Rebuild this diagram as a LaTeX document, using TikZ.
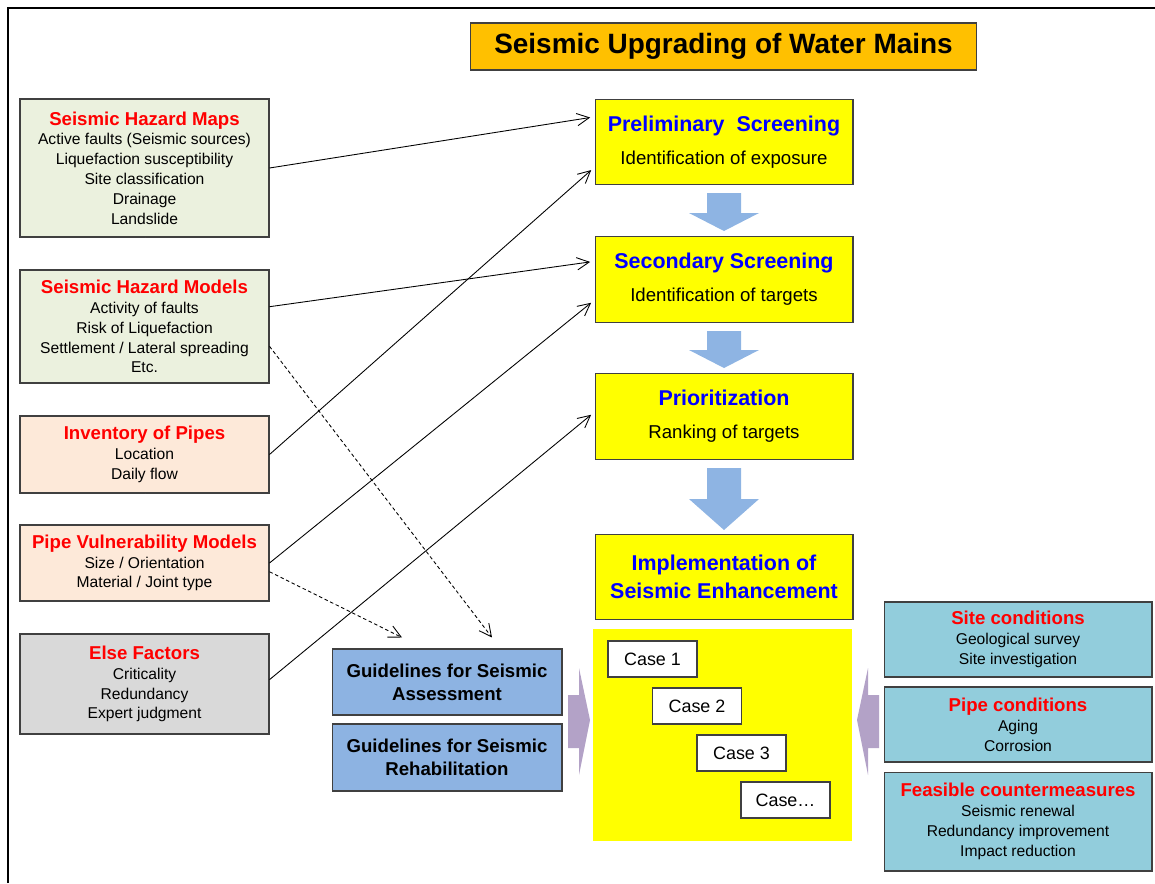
\documentclass[tikz,border=0pt]{standalone}
\usepackage{fontspec}
\setmainfont{Liberation Sans}
\usetikzlibrary{arrows.meta,calc}
\definecolor{titleorange}{HTML}{FFC000}
\definecolor{hazgreen}{HTML}{EBF1DE}
\definecolor{pipepeach}{HTML}{FDE9D9}
\definecolor{factorgrey}{HTML}{D9D9D9}
\definecolor{stepyellow}{HTML}{FFFF00}
\definecolor{stepblue}{HTML}{0000FF}
\definecolor{guideblue}{HTML}{8DB3E2}
\definecolor{flowblue}{HTML}{8EB4E3}
\definecolor{feedpurple}{HTML}{B3A2C7}
\definecolor{condblue}{HTML}{92CDDC}
\definecolor{boxline}{HTML}{404040}
\newcommand{\boxhead}[1]{{\fontsize{10.6}{11.3}\selectfont\bfseries\color{red}#1}}
\newcommand{\stephead}[1]{{\fontsize{12.2}{14}\selectfont\bfseries\color{stepblue}#1}}
\begin{document}
\begin{tikzpicture}[x=0.02cm,y=-0.02cm,
    box/.style={draw=boxline,line width=0.6pt,align=center,inner sep=0pt,
        minimum width=4.98cm,font=\fontsize{8.9}{11.3}\selectfont},
    stepbox/.style={box,fill=stepyellow,minimum width=5.16cm,minimum height=1.71cm,
        font=\fontsize{10.6}{12}\selectfont},
    casebox/.style={box,fill=white,minimum width=1.78cm,minimum height=0.72cm,
        font=\fontsize{10.2}{12}\selectfont},
    guidebox/.style={box,fill=guideblue,minimum width=4.6cm,
        font=\fontsize{10.6}{13}\selectfont\bfseries},
    condbox/.style={box,fill=condblue,minimum width=5.36cm,minimum height=1.5cm},
    link/.style={-{Straight Barb[length=7pt,width=7pt]},line width=0.5pt},
    hint/.style={link,dash pattern=on 2pt off 1.5pt}]
    \useasboundingbox (0,0) rectangle (1155,883);
    \draw[line width=0.6pt] (8,883)--(8,8)--(1155,8);
    % Titel
    \node[box,fill=titleorange,minimum width=10.14cm,minimum height=0.94cm,
        font=\fontsize{15.9}{18}\selectfont\bfseries] (title) at (723.5,46.5) {Seismic Upgrading of Water Mains};
    % linke Spalte
    \node[box,fill=hazgreen,minimum height=2.76cm] (maps) at (144.5,168)
        {\boxhead{Seismic Hazard Maps}\\Active faults (Seismic sources)\\Liquefaction susceptibility\\Site classification\\Drainage\\Landslide};
    \node[box,fill=hazgreen,minimum height=2.26cm] (models) at (144.5,326.5)
        {\boxhead{Seismic Hazard Models}\\Activity of faults\\Risk of Liquefaction\\Settlement / Lateral spreading\\Etc.};
    \node[box,fill=pipepeach,minimum height=1.54cm] (inventory) at (144.5,454.5)
        {\boxhead{Inventory of Pipes}\\Location\\Daily flow};
    \node[box,fill=pipepeach,minimum height=1.52cm] (vuln) at (144.5,563)
        {\boxhead{Pipe Vulnerability Models}\\Size / Orientation\\Material / Joint type};
    \node[box,fill=factorgrey,minimum height=2cm] (factors) at (144.5,684)
        {\boxhead{Else Factors}\\Criticality\\Redundancy\\Expert judgment};
    \draw[double,double distance=1.2pt,line width=0.5pt] (maps.south)--(models.north);
    \draw[double,double distance=1.2pt,line width=0.5pt] (inventory.south)--(vuln.north);
    % Schritte
    \node[stepbox] (prelim) at (724,142) {\stephead{Preliminary\ \ Screening}\\[6.7pt]Identification of exposure};
    \node[stepbox] (second) at (724,279.5) {\stephead{Secondary Screening}\\[6.7pt]Identification of targets};
    \node[stepbox] (prior) at (724,416.5) {\stephead{Prioritization}\\[6.7pt]Ranking of targets};
    \node[stepbox,font=\fontsize{12.2}{15.9}\selectfont\bfseries,text=stepblue] (impl) at (724,577)
        {Implementation of\\Seismic Enhancement};
    \fill[flowblue] (707,193)--(741,193)--(741,213)--(759,213)--(724,231)--(689,213)--(707,213)--cycle;
    \fill[flowblue] (707,331)--(741,331)--(741,350)--(759,350)--(724,368)--(689,350)--(707,350)--cycle;
    \fill[flowblue] (707,468)--(741,468)--(741,499)--(759,499)--(724,530)--(689,499)--(707,499)--cycle;
    % Faelle
    \node[fill=stepyellow,inner sep=0pt,minimum width=5.18cm,minimum height=4.24cm] (cases) at (722.5,735) {};
    \node[casebox] (case1) at (652.5,659) {Case 1};
    \node[casebox] (case2) at (697,706) {Case 2};
    \node[casebox] (case3) at (741.5,753) {Case 3};
    \node[casebox] (case4) at (785.5,800) {Case\dots};
    % Richtlinien
    \node[guidebox,minimum height=1.32cm] (assess) at (447,682) {Guidelines for Seismic\\Assessment};
    \node[guidebox,minimum height=1.34cm] (rehab) at (447,757.5) {Guidelines for Seismic\\Rehabilitation};
    \fill[feedpurple] (568,695)--(579,695)--(579,668)--(590,720)--(579,775)--(579,748)--(568,748)--cycle;
    % rechte Spalte
    \node[condbox] (site) at (1018,639.5) {\boxhead{Site conditions}\\Geological survey\\Site investigation};
    \node[condbox] (pipecond) at (1018,724.5) {\boxhead{Pipe conditions}\\Aging\\Corrosion};
    \node[condbox,minimum height=1.98cm] (measures) at (1018,821.5)
        {\boxhead{Feasible countermeasures}\\Seismic renewal\\Redundancy improvement\\Impact reduction};
    \fill[feedpurple] (879,695)--(868,695)--(868,668)--(857,720)--(868,775)--(868,748)--(879,748)--cycle;
    % Pfeile
    \draw[link,shorten >=2.5pt] (maps.east)--(prelim.169);
    \draw[link,shorten >=2.5pt] (inventory.east)--(prelim.191);
    \draw[link,shorten >=2.5pt] (models.9)--(second.172);
    \draw[link,shorten >=2.5pt] (vuln.east)--(second.189);
    \draw[link,shorten >=2.5pt] (factors.2)--(prior.178);
    \draw[hint] (models.351.5)--($(assess.north)+(45,-11)$);
    \draw[hint] (vuln.356)--($(assess.north)+(-45,-11)$);
\end{tikzpicture}
\end{document}
